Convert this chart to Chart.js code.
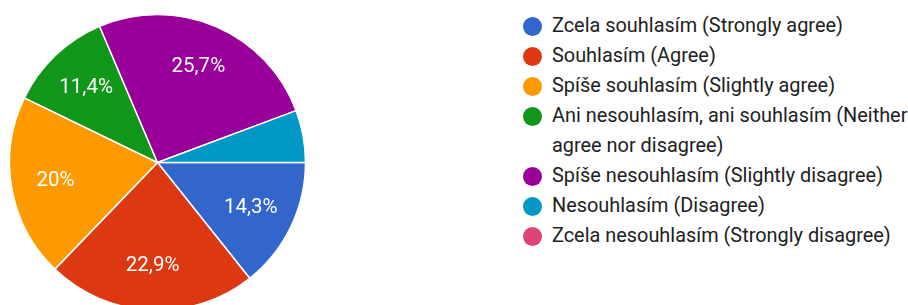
<!DOCTYPE html>
<html>
<head>
<meta charset="utf-8">
<script src="https://cdn.jsdelivr.net/npm/chart.js@4/dist/chart.umd.min.js"></script>
<style>
  html, body { margin: 0; padding: 0; background: #fff; }
  body { width: 908px; height: 305px; overflow: hidden; position: relative; font-family: Roboto, Arial, sans-serif; }
  #pieWrap { position: absolute; left: 0; top: 0; width: 315px; height: 325px; }
  #legend { position: absolute; left: 523px; top: 11px; width: 400px; }
  .item { display: flex; align-items: flex-start; }
  .dot { flex: 0 0 auto; width: 19px; height: 19px; border-radius: 50%; margin-top: 5.5px; margin-right: 10px; }
  .txt { font-size: 19.9px; line-height: 30px; color: #212121; width: 362px; }
</style>
</head>
<body>
<div id="pieWrap"><canvas id="c" width="315" height="325"></canvas></div>
<div id="legend"></div>
<script>
const categories = [
  "Zcela souhlasím (Strongly agree)",
  "Souhlasím (Agree)",
  "Spíše souhlasím (Slightly agree)",
  "Ani nesouhlasím, ani souhlasím (Neither agree nor disagree)",
  "Spíše nesouhlasím (Slightly disagree)",
  "Nesouhlasím (Disagree)",
  "Zcela nesouhlasím (Strongly disagree)"
];
const percentages = [14.3, 22.9, 20, 11.4, 25.7, 5.7, 0];
const colors = ["#3366cc", "#dc3912", "#ff9900", "#109618", "#990099", "#0099c6", "#dd4477"];

// HTML legend built from the arrays
const legend = document.getElementById('legend');
categories.forEach((label, i) => {
  const item = document.createElement('div');
  item.className = 'item';
  const dot = document.createElement('span');
  dot.className = 'dot';
  dot.style.background = colors[i];
  const txt = document.createElement('span');
  txt.className = 'txt';
  txt.textContent = label;
  item.appendChild(dot);
  item.appendChild(txt);
  legend.appendChild(item);
});

const sliceLabels = {
  id: 'sliceLabels',
  afterDatasetsDraw(chart) {
    const ctx = chart.ctx;
    const meta = chart.getDatasetMeta(0);
    const data = chart.data.datasets[0].data;
    ctx.save();
    ctx.fillStyle = '#ffffff';
    ctx.font = '20.5px Roboto, Arial, sans-serif';
    ctx.textAlign = 'center';
    ctx.textBaseline = 'middle';
    meta.data.forEach((arc, i) => {
      const v = data[i];
      if (v < 8) return;
      const p = arc.getProps(['x', 'y', 'startAngle', 'endAngle', 'outerRadius'], true);
      const mid = (p.startAngle + p.endAngle) / 2;
      const r = p.outerRadius * 0.7;
      const x = p.x + Math.cos(mid) * r;
      const y = p.y + Math.sin(mid) * r;
      const txt = (Number.isInteger(v) ? String(v) : v.toFixed(1).replace('.', ',')) + '%';
      ctx.fillText(txt, x, y);
    });
    ctx.restore();
  }
};

new Chart(document.getElementById('c'), {
  type: 'pie',
  data: {
    labels: categories,
    datasets: [{
      data: percentages,
      backgroundColor: colors,
      borderColor: '#ffffff',
      borderWidth: 1.5
    }]
  },
  options: {
    responsive: false,
    animation: false,
    rotation: 90,
    radius: 148,
    layout: { padding: 0 },
    plugins: {
      legend: { display: false },
      tooltip: { enabled: false }
    }
  },
  plugins: [sliceLabels]
});
</script>
</body>
</html>
